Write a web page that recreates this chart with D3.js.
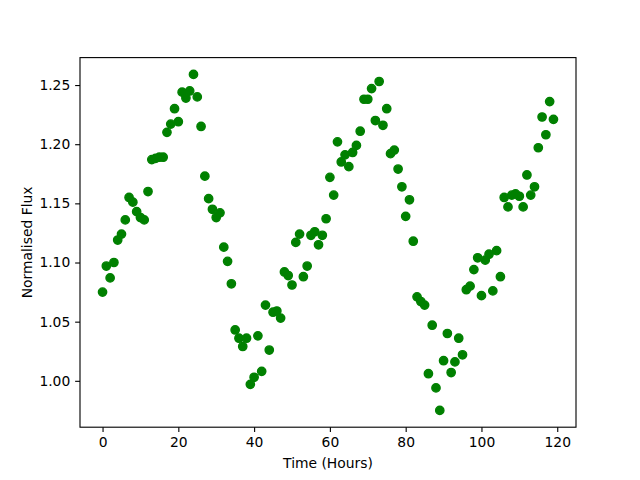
<!DOCTYPE html>
<html>
<head>
<meta charset="utf-8">
<script src="https://cdn.jsdelivr.net/npm/d3@7"></script>
<style>
  body { margin: 0; background: white; }
  text { font-family: "DejaVu Sans", sans-serif; }
</style>
</head>
<body>
<script>
let hours = d3.range(0, 120)
let flux = [
    1.075, 1.097, 1.087, 1.100, 1.119, 1.124, 1.136, 1.155, 1.151, 1.143,
    1.138, 1.136, 1.160, 1.187, 1.188, 1.189, 1.189, 1.210, 1.217, 1.230,
    1.219, 1.244, 1.239, 1.245, 1.259, 1.240, 1.215, 1.173, 1.154, 1.145,
    1.138, 1.142, 1.113, 1.101, 1.082, 1.043, 1.036, 1.029, 1.036, 0.997,
    1.003, 1.038, 1.008, 1.064, 1.026, 1.058, 1.059, 1.053, 1.092, 1.089,
    1.081, 1.117, 1.124, 1.088, 1.097, 1.123, 1.126, 1.115, 1.123, 1.137,
    1.172, 1.157, 1.202, 1.185, 1.191, 1.181, 1.193, 1.199, 1.211, 1.238,
    1.238, 1.247, 1.220, 1.253, 1.216, 1.230, 1.192, 1.195, 1.179, 1.164,
    1.139, 1.153, 1.118, 1.071, 1.067, 1.064, 1.006, 1.047, 0.994, 0.975,
    1.017, 1.040, 1.007, 1.016, 1.036, 1.022, 1.077, 1.080, 1.094, 1.104,
    1.072, 1.102, 1.107, 1.076, 1.110, 1.088, 1.155, 1.147, 1.157, 1.158,
    1.156, 1.147, 1.174, 1.157, 1.164, 1.197, 1.223, 1.208, 1.236, 1.221
]
let xTicks = [0, 20, 40, 60, 80, 100, 120]
let yTicks = [1.00, 1.05, 1.10, 1.15, 1.20, 1.25]

let width = 640
let height = 480
let margin = { top: 57.6, right: 64, bottom: 52.8, left: 80 }
let pt = 100 / 72

let points = hours.map((h, i) => ({ x: h, y: flux[i] }))

// matplotlib style 5% padding on both axes
let pad = (lo, hi) => [lo - (hi - lo) * 0.05, hi + (hi - lo) * 0.05]

let x = d3.scaleLinear()
    .domain(pad(d3.min(hours), d3.max(hours)))
    .range([margin.left, width - margin.right])
let y = d3.scaleLinear()
    .domain(pad(d3.min(flux), d3.max(flux)))
    .range([height - margin.bottom, margin.top])

let svg = d3.select("body").append("svg")
    .attr("width", width)
    .attr("height", height)

svg.append("rect")
    .attr("width", width)
    .attr("height", height)
    .attr("fill", "white")

svg.selectAll(".dot").data(points)
    .enter().append("circle")
    .attr("class", "dot")
    .attr("cx", d => x(d.x))
    .attr("cy", d => y(d.y))
    .attr("r", 3 * pt)
    .attr("fill", "#008000")
    .attr("stroke", "#008000")
    .attr("stroke-width", pt)

let xAxis = svg.append("g")
    .attr("transform", "translate(0," + (height - margin.bottom) + ")")
    .call(d3.axisBottom(x).tickValues(xTicks).tickFormat(d3.format("d"))
        .tickSizeInner(3.5 * pt).tickSizeOuter(0).tickPadding(3.5 * pt))
let yAxis = svg.append("g")
    .attr("transform", "translate(" + margin.left + ",0)")
    .call(d3.axisLeft(y).tickValues(yTicks).tickFormat(d3.format(".2f"))
        .tickSizeInner(3.5 * pt).tickSizeOuter(0).tickPadding(3.5 * pt))

for (let g of [xAxis, yAxis]) {
    g.select(".domain").remove()
    g.selectAll(".tick line").attr("stroke", "black").attr("stroke-width", 0.8 * pt)
    g.selectAll(".tick text")
        .attr("fill", "black")
        .style("font-size", (10 * pt) + "px")
        .style("font-family", "DejaVu Sans, sans-serif")
}

// frame
svg.append("rect")
    .attr("x", margin.left)
    .attr("y", margin.top)
    .attr("width", width - margin.left - margin.right)
    .attr("height", height - margin.top - margin.bottom)
    .attr("fill", "none")
    .attr("stroke", "black")
    .attr("stroke-width", 0.8 * pt)

svg.append("text")
    .attr("x", (margin.left + width - margin.right) / 2)
    .attr("y", 468)
    .attr("text-anchor", "middle")
    .style("font-size", (10 * pt) + "px")
    .text("Time (Hours)")

svg.append("text")
    .attr("transform", "translate(32," + ((margin.top + height - margin.bottom) / 2) + ") rotate(-90)")
    .attr("text-anchor", "middle")
    .style("font-size", (10 * pt) + "px")
    .text("Normalised Flux")
</script>
</body>
</html>
